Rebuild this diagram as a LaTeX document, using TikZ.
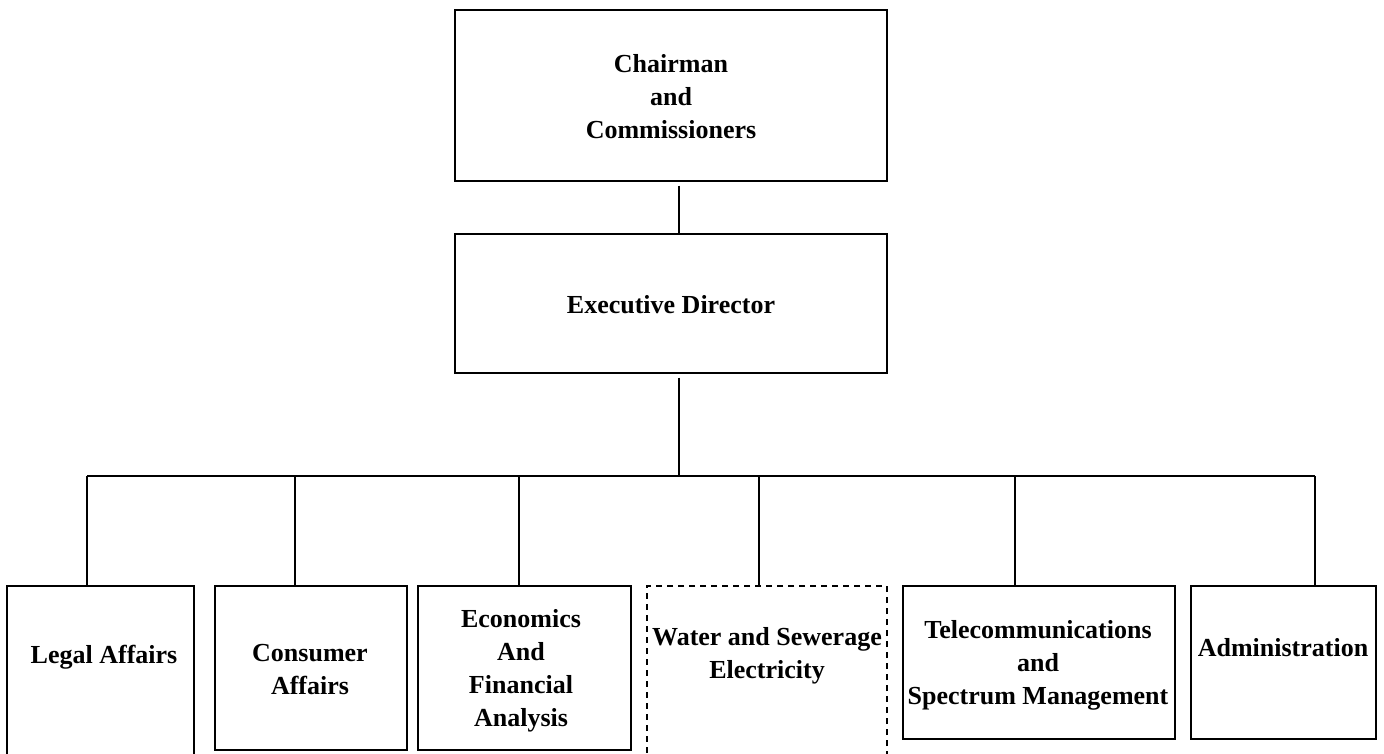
\documentclass[tikz,border=0pt]{standalone}
\usepackage{fontspec}
\setmainfont{Liberation Serif}
\begin{document}
\begin{tikzpicture}[x=1pt,y=-1pt,
  box/.style={draw, line width=1.4pt, inner sep=0pt},
  dbox/.style={box, dash pattern=on 6pt off 5pt},
  lbl/.style={font=\bfseries\fontsize{26}{33}\selectfont, align=center, inner sep=0pt},
  conn/.style={line width=1.2pt}]
\useasboundingbox (0,0) rectangle (1384,753);
\clip (0,0) rectangle (1384,753);
% top boxes
\node[box, minimum width=432pt, minimum height=171pt] (chair) at (671,95.5) {};
\node[lbl] (chairt) at (671,97) {Chairman\\and\\Commissioners};
\node[box, minimum width=432pt, minimum height=139pt] (exec) at (671,303.5) {};
\node[lbl] (exect) at (671,305) {Executive Director};
% bottom boxes
\node[box, minimum width=187pt, minimum height=184pt] (legal) at (100.5,678) {};
\node[lbl] (legalt) at (104,657) {Legal Affairs};
\node[box, minimum width=192pt, minimum height=164pt] (cons) at (311,668) {};
\node[lbl] (const) at (310,670) {Consumer\\Affairs};
\node[box, minimum width=213pt, minimum height=164pt] (econ) at (524.5,668) {};
\node[lbl] (econt) at (521,671) {Economics\\And\\Financial\\Analysis};
\node[dbox, minimum width=240pt, minimum height=184pt] (water) at (767,678) {};
\node[lbl] (watert) at (767,656) {Water and Sewerage\\Electricity};
\node[box, minimum width=272pt, minimum height=153pt] (tele) at (1039,662.5) {};
\node[lbl] (telet) at (1038,665) {Telecommunications\\and\\Spectrum Management};
\node[box, minimum width=185pt, minimum height=153pt] (admin) at (1283.5,662.5) {};
\node[lbl] (admint) at (1283,648) {Administration};
% connectors
\coordinate (hub) at (679,476);
\coordinate (d1) at (87,476);
\coordinate (d2) at (295,476);
\coordinate (d3) at (519,476);
\coordinate (d4) at (759,476);
\coordinate (d5) at (1015,476);
\coordinate (d6) at (1315,476);
\draw[conn] ([yshift=-4pt]chair.south -| hub) -- (exec.north -| hub);
\draw[conn] ([yshift=-4pt]exec.south -| hub) -- (hub);
\draw[conn] (d1) -- (d6);
\draw[conn] (d1) -- (d1 |- legal.north);
\draw[conn] (d2) -- (d2 |- cons.north);
\draw[conn] (d3) -- (d3 |- econ.north);
\draw[conn] (d4) -- (d4 |- water.north);
\draw[conn] (d5) -- (d5 |- tele.north);
\draw[conn] (d6) -- (d6 |- admin.north);
\end{tikzpicture}
\end{document}
